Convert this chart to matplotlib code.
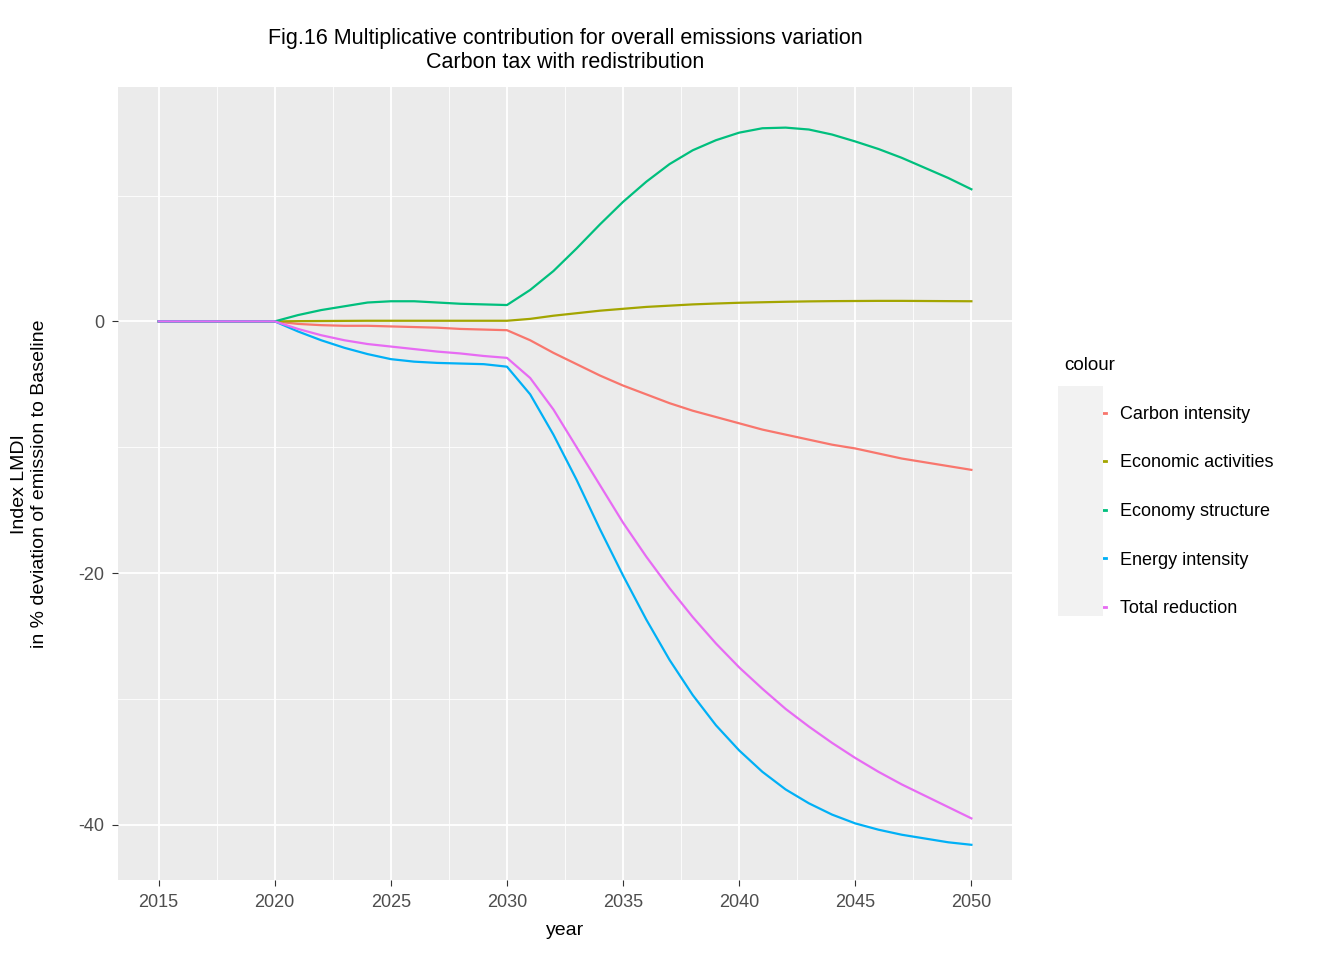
import matplotlib
matplotlib.use("Agg")
import matplotlib.pyplot as plt
import matplotlib.patches as mpatches
import numpy as np

plt.rcParams['font.family'] = ['Liberation Sans', 'DejaVu Sans']
plt.rcParams['axes.unicode_minus'] = False

years = list(range(2015, 2051))
zeros = [0.0] * 6

carbon = zeros + [-0.2, -0.3, -0.35, -0.35, -0.4, -0.45, -0.5, -0.6, -0.65, -0.7,
                  -1.5, -2.5, -3.4, -4.3, -5.1, -5.8, -6.5, -7.1, -7.6, -8.1,
                  -8.6, -9.0, -9.4, -9.8, -10.1, -10.5, -10.9, -11.2, -11.5, -11.8]
economic = zeros + [0.02, 0.03, 0.04, 0.05, 0.05, 0.05, 0.05, 0.05, 0.05, 0.05,
                    0.2, 0.45, 0.65, 0.85, 1.0, 1.15, 1.25, 1.35, 1.42, 1.48,
                    1.52, 1.56, 1.59, 1.61, 1.62, 1.63, 1.63, 1.62, 1.61, 1.6]
structure = zeros + [0.5, 0.9, 1.2, 1.5, 1.6, 1.6, 1.5, 1.4, 1.35, 1.3,
                     2.5, 4.0, 5.8, 7.7, 9.5, 11.1, 12.5, 13.6, 14.4, 15.0,
                     15.35, 15.4, 15.25, 14.85, 14.3, 13.7, 13.0, 12.2, 11.4, 10.5]
energy = zeros + [-0.8, -1.5, -2.1, -2.6, -3.0, -3.2, -3.3, -3.35, -3.4, -3.6,
                  -5.8, -9.0, -12.6, -16.5, -20.2, -23.7, -26.9, -29.7, -32.1, -34.1,
                  -35.8, -37.2, -38.3, -39.2, -39.9, -40.4, -40.8, -41.1, -41.4, -41.6]
total = zeros + [-0.6, -1.1, -1.5, -1.8, -2.0, -2.2, -2.4, -2.55, -2.75, -2.9,
                 -4.5, -7.0, -10.0, -13.0, -16.0, -18.7, -21.2, -23.5, -25.6, -27.5,
                 -29.2, -30.8, -32.2, -33.5, -34.7, -35.8, -36.8, -37.7, -38.6, -39.5]

series = [("Carbon intensity", carbon, "#F8766D"),
          ("Economic activities", economic, "#A3A500"),
          ("Economy structure", structure, "#00BF7D"),
          ("Energy intensity", energy, "#00B0F6"),
          ("Total reduction", total, "#E76BF3")]

fig = plt.figure(figsize=(13.44, 9.6), dpi=100)
ax = fig.add_axes([0.0878, 0.0833, 0.6652, 0.8257])
ax.set_facecolor("#EBEBEB")
for s in ax.spines.values():
    s.set_visible(False)

for name, vals, col in series:
    ax.plot(years, vals, color=col, lw=1.6, label=name)

ax.set_xlim(2013.25, 2051.75)
ax.set_ylim(-44.4, 18.6)
ax.set_xticks(range(2015, 2051, 5))
ax.set_xticks(np.arange(2017.5, 2050, 5), minor=True)
ax.set_yticks([-40, -20, 0])
ax.set_yticks([-30, -10, 10], minor=True)
ax.grid(which="major", color="white", lw=1.3)
ax.grid(which="minor", color="white", lw=0.6)
ax.set_axisbelow(True)
ax.tick_params(which="major", length=4, color="#333333", labelsize=13,
               labelcolor="#4D4D4D", pad=6)
ax.tick_params(which="minor", length=0)

ax.set_xlabel("year", fontsize=14, labelpad=8)
ax.set_ylabel("Index LMDI\nin % deviation of emission to Baseline", fontsize=14, labelpad=22)
ax.set_title("Fig.16 Multiplicative contribution for overall emissions variation\nCarbon tax with redistribution",
             fontsize=15.5, pad=14)

# legend key background
fig.patches.append(mpatches.Rectangle((1058 / 1344, 1 - 616 / 960), 45 / 1344, 230 / 960,
                                      transform=fig.transFigure, facecolor="#F2F2F2",
                                      edgecolor="none"))
leg = ax.legend(loc="upper left", bbox_to_anchor=(1.04, 0.68), frameon=False,
                fontsize=13, title="colour", title_fontsize=13.5,
                handlelength=2.3, labelspacing=1.75, alignment="left")
for h in leg.legend_handles:
    h.set_linewidth(2)

fig.savefig("out.png", dpi=100)
